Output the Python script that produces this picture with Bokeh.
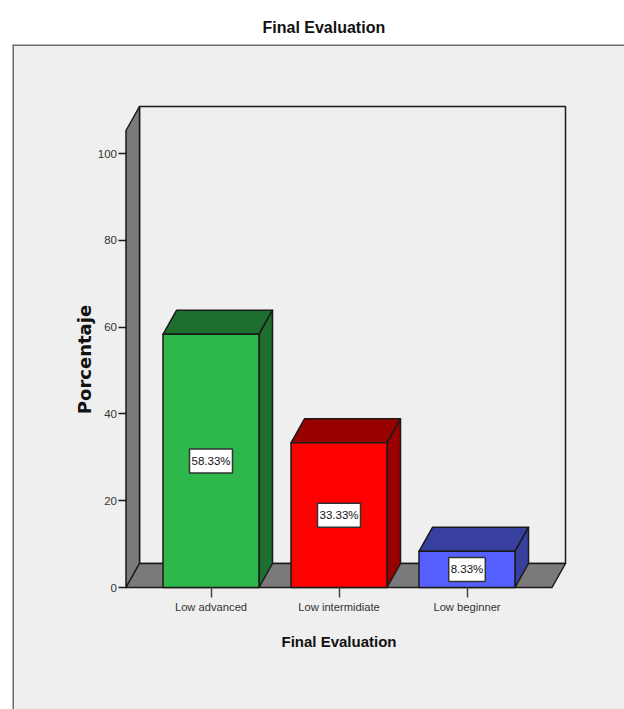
from bokeh.embed import file_html
from bokeh.resources import INLINE
from bokeh.plotting import figure
from bokeh.models import ColumnDataSource, FixedTicker, LinearAxis, Range1d, Span
from bokeh.core.properties import value

categories = ["Low advanced", "Low intermidiate", "Low beginner"]
percentages = [58.33, 33.33, 8.33]
front_colors = ["#2EB84C", "#FF0000", "#5561FF"]
shade_colors = ["#1E6F2F", "#990000", "#37409F"]
y_ticks = [0, 20, 40, 60, 80, 100]

SANS = "Liberation Sans"
INK = "#1A1A1A"

# Pixel scale of the chart box inside the panel
WIDTH, HEIGHT = 624, 709
LEFT, TOP = 12, 44
PX_PER_CAT, PX_PER_PCT = 128.0, 4.34
X0_PX, Y0_PX = 210.5, 587.0

# 3D extrusion of the box and the bars, in data units
DX, DY = 13.5 / PX_PER_CAT, 24 / PX_PER_PCT
BAR = 0.75
FRONT_L, FRONT_R = -85 / PX_PER_CAT, 341 / PX_PER_CAT
FRONT_TOP = 105.3

p = figure(
    width=WIDTH, height=HEIGHT, output_backend="svg", toolbar_location=None,
    x_axis_type=None, y_axis_type=None,
    x_range=Range1d((LEFT - X0_PX) / PX_PER_CAT, (WIDTH - X0_PX) / PX_PER_CAT),
    y_range=Range1d((Y0_PX - HEIGHT) / PX_PER_PCT, (Y0_PX - TOP) / PX_PER_PCT),
    min_border_left=LEFT, min_border_top=TOP, min_border_right=0, min_border_bottom=0,
    background_fill_color="#EFEFEF", border_fill_color="white",
    outline_line_color=None,
    title="Final Evaluation",
)
p.grid.visible = False
p.title.align = "left"
p.title.offset = 250
p.title.text_font = SANS
p.title.text_font_size = "16px"
p.title.text_font_style = "bold"
p.title.text_color = "#111111"
p.title.standoff = 18

# Panel edges along the top and the left
p.add_layout(Span(location=(Y0_PX - TOP - 0.5) / PX_PER_PCT, dimension="width", line_color="#6E6E6E", line_width=2))
p.add_layout(Span(location=(LEFT + 0.5 - X0_PX) / PX_PER_CAT, dimension="height", line_color="#6E6E6E", line_width=2))

# Box: back wall, left wall and floor
edge = dict(line_color=INK, line_width=1.5, line_join="round")
p.patch([FRONT_L + DX, FRONT_R + DX, FRONT_R + DX, FRONT_L + DX],
        [DY, DY, FRONT_TOP + DY, FRONT_TOP + DY], fill_color="#EFEFEF", **edge)
p.patch([FRONT_L, FRONT_L + DX, FRONT_L + DX, FRONT_L],
        [0, DY, FRONT_TOP + DY, FRONT_TOP], fill_color="#7A7A7A", **edge)
p.patch([FRONT_L, FRONT_R, FRONT_R + DX, FRONT_L + DX],
        [0, 0, DY, DY], fill_color="#7A7A7A", **edge)

# Extruded bars
for i, (pct, front, shade) in enumerate(zip(percentages, front_colors, shade_colors)):
    l, r = i - BAR / 2, i + BAR / 2
    p.patch([l, r, r + DX, l + DX], [pct, pct, pct + DY, pct + DY], fill_color=shade, **edge)
    p.patch([r, r + DX, r + DX, r], [0, DY, pct + DY, pct], fill_color=shade, **edge)
    p.patch([l, r, r, l], [0, 0, pct, pct], fill_color=front, **edge)

# Value labels in white boxes at the middle of each bar
source = ColumnDataSource(dict(
    x=list(range(len(categories))),
    y=[v / 2 for v in percentages],
    label=[f"{v:.2f}%" for v in percentages],
))
p.text(x="x", y="y", text="label", source=source,
       text_align="center", text_baseline="middle",
       text_font=value(SANS), text_font_size="11.5px", text_color="#111111",
       background_fill_color="white", border_line_color="#333333", border_line_width=1.5,
       padding=(2, 6))

# Axes fixed to the front edges of the box; the bounds centre each axis title
yaxis = LinearAxis(
    fixed_location=FRONT_L, ticker=FixedTicker(ticks=y_ticks), bounds=(0, 105),
    axis_line_color=None, major_tick_line_color=INK, major_tick_line_width=1.5,
    major_tick_in=0, major_tick_out=8, minor_tick_line_color=None,
    major_label_text_font=SANS, major_label_text_font_size="11.5px",
    major_label_text_color="#333333", major_label_standoff=1,
    axis_label="Porcentaje", axis_label_text_font="DejaVu Sans",
    axis_label_text_font_size="18px", axis_label_text_font_style="bold",
    axis_label_text_color="#111111", axis_label_standoff=0,
)
p.add_layout(yaxis, "left")

xaxis = LinearAxis(
    fixed_location=0, ticker=FixedTicker(ticks=list(range(len(categories)))),
    bounds=(FRONT_L, 2 * 127.5 / PX_PER_CAT - FRONT_L),
    major_label_overrides=dict(enumerate(categories)),
    axis_line_color=None, major_tick_line_color="#444444", major_tick_line_width=1.5,
    major_tick_in=0, major_tick_out=10, minor_tick_line_color=None,
    major_label_text_font=SANS, major_label_text_font_size="11.2px",
    major_label_text_color="#333333", major_label_standoff=3,
    axis_label="Final Evaluation", axis_label_text_font=SANS,
    axis_label_text_font_size="15px", axis_label_text_font_style="bold",
    axis_label_text_color="#111111", axis_label_standoff=17,
)
p.add_layout(xaxis, "below")

open("out.html", "w").write(file_html(p, INLINE))
